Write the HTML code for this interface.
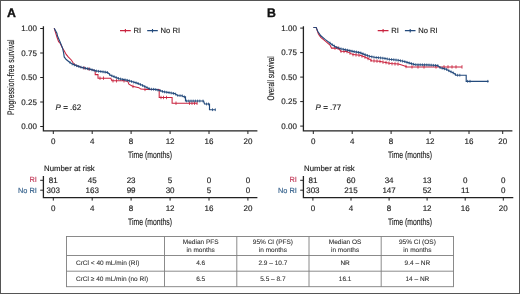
<!DOCTYPE html>
<html><head><meta charset="utf-8"><style>
html,body{margin:0;padding:0;background:#fff;}
body{width:520px;height:294px;overflow:hidden;position:relative;}
svg{position:absolute;left:0;top:0;font-family:"Liberation Sans", sans-serif;will-change:transform;text-rendering:geometricPrecision;}
.frame{position:absolute;left:0;top:0;width:518px;height:292px;border:1px solid #555;}
</style></head><body>
<svg width="520" height="294" viewBox="0 0 520 294">
<text x="7.0" y="17.25" font-size="12.3" font-weight="bold" fill="#111" stroke="#111" stroke-width="0.35">A</text><path d="M43.4,26.2V130.9H257.4" fill="none" stroke="#222" stroke-width="1.3"/><path d="M40.2,28.5H43.4" stroke="#222" stroke-width="1"/><text x="36.9" y="31.3" font-size="8" text-anchor="end" fill="#222" stroke="#222" stroke-width="0.15">1.00</text><path d="M40.2,53.0H43.4" stroke="#222" stroke-width="1"/><text x="36.9" y="55.8" font-size="8" text-anchor="end" fill="#222" stroke="#222" stroke-width="0.15">0.75</text><path d="M40.2,77.5H43.4" stroke="#222" stroke-width="1"/><text x="36.9" y="80.3" font-size="8" text-anchor="end" fill="#222" stroke="#222" stroke-width="0.15">0.50</text><path d="M40.2,102.0H43.4" stroke="#222" stroke-width="1"/><text x="36.9" y="104.8" font-size="8" text-anchor="end" fill="#222" stroke="#222" stroke-width="0.15">0.25</text><path d="M40.2,126.5H43.4" stroke="#222" stroke-width="1"/><text x="36.9" y="129.3" font-size="8" text-anchor="end" fill="#222" stroke="#222" stroke-width="0.15">0.00</text><path d="M53.3,131V134" stroke="#222" stroke-width="1"/><text x="53.3" y="144.4" font-size="8" text-anchor="middle" fill="#222" stroke="#222" stroke-width="0.15">0</text><path d="M92.2,131V134" stroke="#222" stroke-width="1"/><text x="92.2" y="144.4" font-size="8" text-anchor="middle" fill="#222" stroke="#222" stroke-width="0.15">4</text><path d="M131.1,131V134" stroke="#222" stroke-width="1"/><text x="131.1" y="144.4" font-size="8" text-anchor="middle" fill="#222" stroke="#222" stroke-width="0.15">8</text><path d="M170.1,131V134" stroke="#222" stroke-width="1"/><text x="170.1" y="144.4" font-size="8" text-anchor="middle" fill="#222" stroke="#222" stroke-width="0.15">12</text><path d="M209.0,131V134" stroke="#222" stroke-width="1"/><text x="209.0" y="144.4" font-size="8" text-anchor="middle" fill="#222" stroke="#222" stroke-width="0.15">16</text><path d="M247.9,131V134" stroke="#222" stroke-width="1"/><text x="247.9" y="144.4" font-size="8" text-anchor="middle" fill="#222" stroke="#222" stroke-width="0.15">20</text><text transform="translate(150.0,157.6) scale(0.72,1)" font-size="9.5" text-anchor="middle" fill="#222" stroke="#222" stroke-width="0.16">Time (months)</text><text transform="translate(14.3,77.3) rotate(-90) scale(0.719,1)" font-size="9.5" text-anchor="middle" fill="#222" stroke="#222" stroke-width="0.16">Progression-free survival</text><path d="M120.0,30.6H130.8M125.4,28.9V32.5" stroke="#c9233f" stroke-width="1.1"/><text x="133.6" y="33.2" font-size="7.6" fill="#222" stroke="#222" stroke-width="0.15">RI</text><path d="M147.2,30.6H157.8M152.5,28.9V32.5" stroke="#234a7c" stroke-width="1.1"/><text x="160.6" y="33.2" font-size="7.6" fill="#222" stroke="#222" stroke-width="0.15">No RI</text><text x="55.6" y="110" font-size="8" fill="#222" stroke="#222" stroke-width="0.15"><tspan font-style="italic">P</tspan> = .62</text><path d="M54.2,28.2 L56.9,37.0 L58.6,41.6 L60.1,43.2 L62.6,48.2 L64.2,50.8 L66.2,54.4 L68.2,56.9 L71.3,60.0 L73.3,63.0 L75.0,64.7 L76.4,65.6 L81.2,67.3 L86.0,68.4 L90.8,69.4 L95.2,70.6 L95.2,74.6 L98.0,74.6 L98.0,78.2 L110.8,78.2 L111.9,80.8 L121.5,80.8 L123.3,80.6 L127.9,81.6 L128.9,84.1 L132.5,86.3 L138.9,87.7 L140.8,89.1 L146.3,89.5 L159.2,89.6 L159.2,97.5 L172.1,97.5 L172.1,103.2 L197.4,103.2" fill="none" stroke="#c9233f" stroke-width="1.05" stroke-linejoin="miter"/><path d="M84.0,66.2V69.6" stroke="#c9233f" stroke-width="0.85"/><path d="M89.0,67.3V70.7" stroke="#c9233f" stroke-width="0.85"/><path d="M100.0,76.5V79.9" stroke="#c9233f" stroke-width="0.85"/><path d="M103.5,76.5V79.9" stroke="#c9233f" stroke-width="0.85"/><path d="M113.0,79.1V82.5" stroke="#c9233f" stroke-width="0.85"/><path d="M116.5,79.1V82.5" stroke="#c9233f" stroke-width="0.85"/><path d="M124.0,79.1V82.5" stroke="#c9233f" stroke-width="0.85"/><path d="M133.0,84.7V88.1" stroke="#c9233f" stroke-width="0.85"/><path d="M145.0,87.7V91.1" stroke="#c9233f" stroke-width="0.85"/><path d="M161.0,95.8V99.2" stroke="#c9233f" stroke-width="0.85"/><path d="M163.5,95.8V99.2" stroke="#c9233f" stroke-width="0.85"/><path d="M166.5,95.8V99.2" stroke="#c9233f" stroke-width="0.85"/><path d="M176.0,101.5V104.9" stroke="#c9233f" stroke-width="0.85"/><path d="M189.5,101.5V104.9" stroke="#c9233f" stroke-width="0.85"/><path d="M192.0,101.5V104.9" stroke="#c9233f" stroke-width="0.85"/><path d="M194.5,101.5V104.9" stroke="#c9233f" stroke-width="0.85"/><path d="M197.0,101.5V104.9" stroke="#c9233f" stroke-width="0.85"/><path d="M54.2,28.2 L56.9,33.3 L57.5,36.0 L60.1,42.1 L62.6,48.2 L63.7,53.3 L64.2,56.9 L66.2,59.5 L69.3,62.0 L72.3,64.1 L76.4,65.6 L81.2,67.3 L86.0,68.4 L90.8,69.4 L95.7,70.9 L100.5,71.5 L105.3,72.1 L107.8,72.6 L110.5,75.3 L114.2,76.7 L118.8,78.6 L123.3,79.5 L127.9,80.4 L132.5,81.8 L137.1,83.1 L141.7,85.0 L146.3,87.3 L150.0,89.1 L155.0,89.4 L160.0,90.5 L163.0,91.6 L170.0,92.8 L174.8,93.6 L177.6,95.5 L181.9,95.7 L184.3,96.9 L185.5,96.9 L185.5,101.0 L203.6,101.0 L204.5,104.0 L209.5,104.0 L209.5,109.7 L215.6,109.7" fill="none" stroke="#234a7c" stroke-width="1.15" stroke-linejoin="miter"/><path d="M70.0,61.1V63.9" stroke="#234a7c" stroke-width="0.8"/><path d="M72.2,62.6V65.4" stroke="#234a7c" stroke-width="0.8"/><path d="M74.4,63.5V66.3" stroke="#234a7c" stroke-width="0.8"/><path d="M76.6,64.3V67.1" stroke="#234a7c" stroke-width="0.8"/><path d="M78.8,65.0V67.9" stroke="#234a7c" stroke-width="0.8"/><path d="M81.0,65.8V68.6" stroke="#234a7c" stroke-width="0.8"/><path d="M83.2,66.4V69.2" stroke="#234a7c" stroke-width="0.8"/><path d="M85.4,66.9V69.7" stroke="#234a7c" stroke-width="0.8"/><path d="M87.6,67.3V70.1" stroke="#234a7c" stroke-width="0.8"/><path d="M89.8,67.8V70.6" stroke="#234a7c" stroke-width="0.8"/><path d="M92.0,68.4V71.2" stroke="#234a7c" stroke-width="0.8"/><path d="M94.2,69.0V71.8" stroke="#234a7c" stroke-width="0.8"/><path d="M96.4,69.6V72.4" stroke="#234a7c" stroke-width="0.8"/><path d="M98.6,69.9V72.7" stroke="#234a7c" stroke-width="0.8"/><path d="M100.8,70.1V72.9" stroke="#234a7c" stroke-width="0.8"/><path d="M103.0,70.4V73.2" stroke="#234a7c" stroke-width="0.8"/><path d="M105.2,70.7V73.5" stroke="#234a7c" stroke-width="0.8"/><path d="M107.4,71.1V73.9" stroke="#234a7c" stroke-width="0.8"/><path d="M109.6,73.0V75.8" stroke="#234a7c" stroke-width="0.8"/><path d="M111.8,74.4V77.2" stroke="#234a7c" stroke-width="0.8"/><path d="M114.0,75.2V78.0" stroke="#234a7c" stroke-width="0.8"/><path d="M116.2,76.1V78.9" stroke="#234a7c" stroke-width="0.8"/><path d="M118.4,77.0V79.8" stroke="#234a7c" stroke-width="0.8"/><path d="M120.6,77.6V80.4" stroke="#234a7c" stroke-width="0.8"/><path d="M122.8,78.0V80.8" stroke="#234a7c" stroke-width="0.8"/><path d="M125.0,78.4V81.2" stroke="#234a7c" stroke-width="0.8"/><path d="M127.2,78.9V81.7" stroke="#234a7c" stroke-width="0.8"/><path d="M129.4,79.5V82.3" stroke="#234a7c" stroke-width="0.8"/><path d="M131.6,80.1V82.9" stroke="#234a7c" stroke-width="0.8"/><path d="M133.8,80.8V83.6" stroke="#234a7c" stroke-width="0.8"/><path d="M136.0,81.4V84.2" stroke="#234a7c" stroke-width="0.8"/><path d="M138.2,82.2V85.0" stroke="#234a7c" stroke-width="0.8"/><path d="M140.4,83.1V85.9" stroke="#234a7c" stroke-width="0.8"/><path d="M142.6,84.0V86.9" stroke="#234a7c" stroke-width="0.8"/><path d="M144.8,85.1V87.9" stroke="#234a7c" stroke-width="0.8"/><path d="M147.0,86.2V89.0" stroke="#234a7c" stroke-width="0.8"/><path d="M149.2,87.3V90.1" stroke="#234a7c" stroke-width="0.8"/><path d="M151.4,87.8V90.6" stroke="#234a7c" stroke-width="0.8"/><path d="M153.6,87.9V90.7" stroke="#234a7c" stroke-width="0.8"/><path d="M155.8,88.2V91.0" stroke="#234a7c" stroke-width="0.8"/><path d="M158.0,88.7V91.5" stroke="#234a7c" stroke-width="0.8"/><path d="M160.2,89.2V92.0" stroke="#234a7c" stroke-width="0.8"/><path d="M162.4,90.0V92.8" stroke="#234a7c" stroke-width="0.8"/><path d="M164.6,90.5V93.3" stroke="#234a7c" stroke-width="0.8"/><path d="M166.8,90.9V93.7" stroke="#234a7c" stroke-width="0.8"/><path d="M169.0,91.2V94.0" stroke="#234a7c" stroke-width="0.8"/><path d="M171.2,91.6V94.4" stroke="#234a7c" stroke-width="0.8"/><path d="M173.4,92.0V94.8" stroke="#234a7c" stroke-width="0.8"/><path d="M175.6,92.7V95.5" stroke="#234a7c" stroke-width="0.8"/><path d="M177.8,94.1V96.9" stroke="#234a7c" stroke-width="0.8"/><path d="M180.0,94.2V97.0" stroke="#234a7c" stroke-width="0.8"/><path d="M182.2,94.4V97.2" stroke="#234a7c" stroke-width="0.8"/><path d="M184.4,95.5V98.3" stroke="#234a7c" stroke-width="0.8"/><path d="M186.6,99.6V102.4" stroke="#234a7c" stroke-width="0.8"/><path d="M188.8,99.6V102.4" stroke="#234a7c" stroke-width="0.8"/><path d="M191.0,99.6V102.4" stroke="#234a7c" stroke-width="0.8"/><path d="M193.2,99.6V102.4" stroke="#234a7c" stroke-width="0.8"/><path d="M195.4,99.6V102.4" stroke="#234a7c" stroke-width="0.8"/><path d="M197.6,99.6V102.4" stroke="#234a7c" stroke-width="0.8"/><path d="M199.8,99.6V102.4" stroke="#234a7c" stroke-width="0.8"/><path d="M203.0,99.6V102.4" stroke="#234a7c" stroke-width="0.8"/><path d="M206.5,102.6V105.4" stroke="#234a7c" stroke-width="0.8"/><path d="M208.5,102.6V105.4" stroke="#234a7c" stroke-width="0.8"/><path d="M212.5,108.3V111.1" stroke="#234a7c" stroke-width="0.8"/><path d="M215.3,108.3V111.1" stroke="#234a7c" stroke-width="0.8"/><text x="44.0" y="170.7" font-size="7.8" fill="#222" stroke="#222" stroke-width="0.15">Number at risk</text><path d="M43.4,175.9V197.7H257.4" fill="none" stroke="#222" stroke-width="1.3"/><path d="M40.2,180.3H43.4M40.2,190.2H43.4" stroke="#222" stroke-width="1"/><text x="36.8" y="182.0" font-size="7.4" text-anchor="end" fill="#c23e5c" stroke="#c23e5c" stroke-width="0.15">RI</text><text x="36.8" y="192.5" font-size="7.4" text-anchor="end" fill="#36628c" stroke="#36628c" stroke-width="0.15">No RI</text><text x="53.3" y="182.6" font-size="8" text-anchor="middle" fill="#222" stroke="#222" stroke-width="0.15">81</text><text x="53.3" y="192.9" font-size="8" text-anchor="middle" fill="#222" stroke="#222" stroke-width="0.15">303</text><path d="M53.3,197.8V200.6" stroke="#222" stroke-width="1"/><text x="53.3" y="211.4" font-size="8" text-anchor="middle" fill="#222" stroke="#222" stroke-width="0.15">0</text><text x="92.2" y="182.6" font-size="8" text-anchor="middle" fill="#222" stroke="#222" stroke-width="0.15">45</text><text x="92.2" y="192.9" font-size="8" text-anchor="middle" fill="#222" stroke="#222" stroke-width="0.15">163</text><path d="M92.2,197.8V200.6" stroke="#222" stroke-width="1"/><text x="92.2" y="211.4" font-size="8" text-anchor="middle" fill="#222" stroke="#222" stroke-width="0.15">4</text><text x="131.1" y="182.6" font-size="8" text-anchor="middle" fill="#222" stroke="#222" stroke-width="0.15">23</text><text x="131.1" y="192.9" font-size="8" text-anchor="middle" fill="#222" stroke="#222" stroke-width="0.15">99</text><path d="M131.1,197.8V200.6" stroke="#222" stroke-width="1"/><text x="131.1" y="211.4" font-size="8" text-anchor="middle" fill="#222" stroke="#222" stroke-width="0.15">8</text><text x="170.1" y="182.6" font-size="8" text-anchor="middle" fill="#222" stroke="#222" stroke-width="0.15">5</text><text x="170.1" y="192.9" font-size="8" text-anchor="middle" fill="#222" stroke="#222" stroke-width="0.15">30</text><path d="M170.1,197.8V200.6" stroke="#222" stroke-width="1"/><text x="170.1" y="211.4" font-size="8" text-anchor="middle" fill="#222" stroke="#222" stroke-width="0.15">12</text><text x="209.0" y="182.6" font-size="8" text-anchor="middle" fill="#222" stroke="#222" stroke-width="0.15">0</text><text x="209.0" y="192.9" font-size="8" text-anchor="middle" fill="#222" stroke="#222" stroke-width="0.15">5</text><path d="M209.0,197.8V200.6" stroke="#222" stroke-width="1"/><text x="209.0" y="211.4" font-size="8" text-anchor="middle" fill="#222" stroke="#222" stroke-width="0.15">16</text><text x="247.9" y="182.6" font-size="8" text-anchor="middle" fill="#222" stroke="#222" stroke-width="0.15">0</text><text x="247.9" y="192.9" font-size="8" text-anchor="middle" fill="#222" stroke="#222" stroke-width="0.15">0</text><path d="M247.9,197.8V200.6" stroke="#222" stroke-width="1"/><text x="247.9" y="211.4" font-size="8" text-anchor="middle" fill="#222" stroke="#222" stroke-width="0.15">20</text><text transform="translate(150.0,225.0) scale(0.72,1)" font-size="9.5" text-anchor="middle" fill="#222" stroke="#222" stroke-width="0.16">Time (months)</text><text x="267.0" y="16.5" font-size="12.3" font-weight="bold" fill="#111" stroke="#111" stroke-width="0.35">B</text><path d="M303.4,26.2V130.9H512.4" fill="none" stroke="#222" stroke-width="1.3"/><path d="M300.2,28.1H303.4" stroke="#222" stroke-width="1"/><text x="296.9" y="30.5" font-size="8" text-anchor="end" fill="#222" stroke="#222" stroke-width="0.15">1.00</text><path d="M300.2,52.6H303.4" stroke="#222" stroke-width="1"/><text x="296.9" y="55.0" font-size="8" text-anchor="end" fill="#222" stroke="#222" stroke-width="0.15">0.75</text><path d="M300.2,77.1H303.4" stroke="#222" stroke-width="1"/><text x="296.9" y="79.5" font-size="8" text-anchor="end" fill="#222" stroke="#222" stroke-width="0.15">0.50</text><path d="M300.2,101.6H303.4" stroke="#222" stroke-width="1"/><text x="296.9" y="104.0" font-size="8" text-anchor="end" fill="#222" stroke="#222" stroke-width="0.15">0.25</text><path d="M300.2,126.1H303.4" stroke="#222" stroke-width="1"/><text x="296.9" y="128.5" font-size="8" text-anchor="end" fill="#222" stroke="#222" stroke-width="0.15">0.00</text><path d="M313.3,131V134" stroke="#222" stroke-width="1"/><text x="313.3" y="144.4" font-size="8" text-anchor="middle" fill="#222" stroke="#222" stroke-width="0.15">0</text><path d="M352.2,131V134" stroke="#222" stroke-width="1"/><text x="352.2" y="144.4" font-size="8" text-anchor="middle" fill="#222" stroke="#222" stroke-width="0.15">4</text><path d="M391.1,131V134" stroke="#222" stroke-width="1"/><text x="391.1" y="144.4" font-size="8" text-anchor="middle" fill="#222" stroke="#222" stroke-width="0.15">8</text><path d="M430.1,131V134" stroke="#222" stroke-width="1"/><text x="430.1" y="144.4" font-size="8" text-anchor="middle" fill="#222" stroke="#222" stroke-width="0.15">12</text><path d="M469.0,131V134" stroke="#222" stroke-width="1"/><text x="469.0" y="144.4" font-size="8" text-anchor="middle" fill="#222" stroke="#222" stroke-width="0.15">16</text><path d="M502.7,131V134" stroke="#222" stroke-width="1"/><text x="502.7" y="144.4" font-size="8" text-anchor="middle" fill="#222" stroke="#222" stroke-width="0.15">20</text><text transform="translate(410.0,157.6) scale(0.72,1)" font-size="9.5" text-anchor="middle" fill="#222" stroke="#222" stroke-width="0.16">Time (months)</text><text transform="translate(274.3,78.4) rotate(-90) scale(0.684,1)" font-size="9.5" text-anchor="middle" fill="#222" stroke="#222" stroke-width="0.16">Overall survival</text><path d="M377.7,30.6H388.5M383.1,28.9V32.5" stroke="#c9233f" stroke-width="1.1"/><text x="391.3" y="33.2" font-size="7.6" fill="#222" stroke="#222" stroke-width="0.15">RI</text><path d="M404.9,30.6H415.5M410.2,28.9V32.5" stroke="#234a7c" stroke-width="1.1"/><text x="418.3" y="33.2" font-size="7.6" fill="#222" stroke="#222" stroke-width="0.15">No RI</text><text x="315.6" y="110" font-size="8" fill="#222" stroke="#222" stroke-width="0.15"><tspan font-style="italic">P</tspan> = .77</text><path d="M313.4,27.5 L316.2,27.5 L318.5,34.2 L320.8,37.3 L325.4,41.2 L330.0,45.0 L331.5,48.1 L338.5,48.1 L340.8,51.2 L346.9,51.5 L353.0,54.6 L360.0,55.3 L364.8,57.0 L369.6,59.2 L371.5,60.7 L379.2,61.2 L383.0,62.1 L386.9,62.7 L390.8,63.6 L398.5,64.1 L403.3,65.5 L407.1,66.9 L462.0,66.9" fill="none" stroke="#c9233f" stroke-width="1.05" stroke-linejoin="miter"/><path d="M335.0,46.4V49.8" stroke="#c9233f" stroke-width="0.85"/><path d="M338.0,46.4V49.8" stroke="#c9233f" stroke-width="0.85"/><path d="M341.0,49.5V52.9" stroke="#c9233f" stroke-width="0.85"/><path d="M344.0,49.7V53.1" stroke="#c9233f" stroke-width="0.85"/><path d="M347.0,49.9V53.3" stroke="#c9233f" stroke-width="0.85"/><path d="M350.0,51.4V54.8" stroke="#c9233f" stroke-width="0.85"/><path d="M353.0,52.9V56.3" stroke="#c9233f" stroke-width="0.85"/><path d="M356.0,53.2V56.6" stroke="#c9233f" stroke-width="0.85"/><path d="M359.0,53.5V56.9" stroke="#c9233f" stroke-width="0.85"/><path d="M362.0,54.3V57.7" stroke="#c9233f" stroke-width="0.85"/><path d="M365.0,55.4V58.8" stroke="#c9233f" stroke-width="0.85"/><path d="M368.0,56.8V60.2" stroke="#c9233f" stroke-width="0.85"/><path d="M371.0,58.6V62.0" stroke="#c9233f" stroke-width="0.85"/><path d="M374.0,59.2V62.6" stroke="#c9233f" stroke-width="0.85"/><path d="M377.0,59.4V62.8" stroke="#c9233f" stroke-width="0.85"/><path d="M380.0,59.7V63.1" stroke="#c9233f" stroke-width="0.85"/><path d="M383.0,60.4V63.8" stroke="#c9233f" stroke-width="0.85"/><path d="M386.0,60.9V64.3" stroke="#c9233f" stroke-width="0.85"/><path d="M389.0,61.5V64.9" stroke="#c9233f" stroke-width="0.85"/><path d="M392.0,62.0V65.4" stroke="#c9233f" stroke-width="0.85"/><path d="M395.0,62.2V65.6" stroke="#c9233f" stroke-width="0.85"/><path d="M398.0,62.4V65.8" stroke="#c9233f" stroke-width="0.85"/><path d="M406.0,64.8V68.2" stroke="#c9233f" stroke-width="0.85"/><path d="M412.0,65.2V68.6" stroke="#c9233f" stroke-width="0.85"/><path d="M418.0,65.2V68.6" stroke="#c9233f" stroke-width="0.85"/><path d="M424.0,65.2V68.6" stroke="#c9233f" stroke-width="0.85"/><path d="M436.0,65.2V68.6" stroke="#c9233f" stroke-width="0.85"/><path d="M444.0,65.2V68.6" stroke="#c9233f" stroke-width="0.85"/><path d="M448.0,65.2V68.6" stroke="#c9233f" stroke-width="0.85"/><path d="M452.0,65.2V68.6" stroke="#c9233f" stroke-width="0.85"/><path d="M456.0,65.2V68.6" stroke="#c9233f" stroke-width="0.85"/><path d="M462.0,65.2V68.6" stroke="#c9233f" stroke-width="0.85"/><path d="M313.4,27.5 L316.2,27.5 L317.7,31.2 L320.8,35.8 L325.4,39.6 L331.5,44.2 L336.2,47.3 L340.8,48.8 L348.5,50.4 L354.0,51.6 L360.0,52.6 L364.8,54.6 L369.6,56.3 L374.4,57.3 L379.2,57.8 L384.0,58.3 L388.8,59.2 L393.7,59.7 L398.5,60.3 L403.3,61.2 L408.0,62.6 L414.8,64.6 L426.9,64.9 L437.7,65.5 L440.4,67.8 L445.8,69.1 L449.8,71.2 L453.6,73.1 L456.3,75.2 L466.2,75.2 L466.2,81.3 L488.6,81.3" fill="none" stroke="#234a7c" stroke-width="1.15" stroke-linejoin="miter"/><path d="M330.0,41.7V44.5" stroke="#234a7c" stroke-width="0.8"/><path d="M332.2,43.3V46.1" stroke="#234a7c" stroke-width="0.8"/><path d="M334.4,44.7V47.5" stroke="#234a7c" stroke-width="0.8"/><path d="M336.6,46.0V48.8" stroke="#234a7c" stroke-width="0.8"/><path d="M338.8,46.7V49.5" stroke="#234a7c" stroke-width="0.8"/><path d="M341.0,47.4V50.2" stroke="#234a7c" stroke-width="0.8"/><path d="M343.2,47.9V50.7" stroke="#234a7c" stroke-width="0.8"/><path d="M345.4,48.4V51.2" stroke="#234a7c" stroke-width="0.8"/><path d="M347.6,48.8V51.6" stroke="#234a7c" stroke-width="0.8"/><path d="M349.8,49.3V52.1" stroke="#234a7c" stroke-width="0.8"/><path d="M352.0,49.8V52.6" stroke="#234a7c" stroke-width="0.8"/><path d="M354.2,50.2V53.0" stroke="#234a7c" stroke-width="0.8"/><path d="M356.4,50.6V53.4" stroke="#234a7c" stroke-width="0.8"/><path d="M358.6,51.0V53.8" stroke="#234a7c" stroke-width="0.8"/><path d="M360.8,51.5V54.3" stroke="#234a7c" stroke-width="0.8"/><path d="M363.0,52.4V55.2" stroke="#234a7c" stroke-width="0.8"/><path d="M365.2,53.3V56.1" stroke="#234a7c" stroke-width="0.8"/><path d="M367.4,54.1V56.9" stroke="#234a7c" stroke-width="0.8"/><path d="M369.6,54.9V57.7" stroke="#234a7c" stroke-width="0.8"/><path d="M371.8,55.4V58.2" stroke="#234a7c" stroke-width="0.8"/><path d="M374.0,55.8V58.6" stroke="#234a7c" stroke-width="0.8"/><path d="M376.2,56.1V58.9" stroke="#234a7c" stroke-width="0.8"/><path d="M378.4,56.3V59.1" stroke="#234a7c" stroke-width="0.8"/><path d="M380.6,56.5V59.3" stroke="#234a7c" stroke-width="0.8"/><path d="M382.8,56.8V59.6" stroke="#234a7c" stroke-width="0.8"/><path d="M385.0,57.1V59.9" stroke="#234a7c" stroke-width="0.8"/><path d="M387.2,57.5V60.3" stroke="#234a7c" stroke-width="0.8"/><path d="M389.4,57.9V60.7" stroke="#234a7c" stroke-width="0.8"/><path d="M391.6,58.1V60.9" stroke="#234a7c" stroke-width="0.8"/><path d="M393.8,58.3V61.1" stroke="#234a7c" stroke-width="0.8"/><path d="M396.0,58.6V61.4" stroke="#234a7c" stroke-width="0.8"/><path d="M398.2,58.9V61.7" stroke="#234a7c" stroke-width="0.8"/><path d="M400.4,59.3V62.1" stroke="#234a7c" stroke-width="0.8"/><path d="M402.6,59.7V62.5" stroke="#234a7c" stroke-width="0.8"/><path d="M404.8,60.2V63.0" stroke="#234a7c" stroke-width="0.8"/><path d="M407.0,60.9V63.7" stroke="#234a7c" stroke-width="0.8"/><path d="M409.2,61.6V64.4" stroke="#234a7c" stroke-width="0.8"/><path d="M411.4,62.2V65.0" stroke="#234a7c" stroke-width="0.8"/><path d="M413.6,62.8V65.6" stroke="#234a7c" stroke-width="0.8"/><path d="M415.8,63.2V66.0" stroke="#234a7c" stroke-width="0.8"/><path d="M418.0,63.3V66.1" stroke="#234a7c" stroke-width="0.8"/><path d="M420.2,63.3V66.1" stroke="#234a7c" stroke-width="0.8"/><path d="M422.4,63.4V66.2" stroke="#234a7c" stroke-width="0.8"/><path d="M424.6,63.4V66.2" stroke="#234a7c" stroke-width="0.8"/><path d="M426.8,63.5V66.3" stroke="#234a7c" stroke-width="0.8"/><path d="M429.0,63.6V66.4" stroke="#234a7c" stroke-width="0.8"/><path d="M431.2,63.7V66.5" stroke="#234a7c" stroke-width="0.8"/><path d="M433.4,63.9V66.7" stroke="#234a7c" stroke-width="0.8"/><path d="M435.6,64.0V66.8" stroke="#234a7c" stroke-width="0.8"/><path d="M437.8,64.2V67.0" stroke="#234a7c" stroke-width="0.8"/><path d="M440.0,66.1V68.9" stroke="#234a7c" stroke-width="0.8"/><path d="M442.2,66.8V69.6" stroke="#234a7c" stroke-width="0.8"/><path d="M444.4,67.4V70.2" stroke="#234a7c" stroke-width="0.8"/><path d="M446.6,68.1V70.9" stroke="#234a7c" stroke-width="0.8"/><path d="M448.8,69.3V72.1" stroke="#234a7c" stroke-width="0.8"/><path d="M451.0,70.4V73.2" stroke="#234a7c" stroke-width="0.8"/><path d="M453.2,71.5V74.3" stroke="#234a7c" stroke-width="0.8"/><path d="M455.4,73.1V75.9" stroke="#234a7c" stroke-width="0.8"/><path d="M457.6,73.8V76.6" stroke="#234a7c" stroke-width="0.8"/><path d="M459.8,73.8V76.6" stroke="#234a7c" stroke-width="0.8"/><path d="M467.6,79.9V82.7" stroke="#234a7c" stroke-width="0.8"/><path d="M470.0,79.9V82.7" stroke="#234a7c" stroke-width="0.8"/><path d="M487.8,79.9V82.7" stroke="#234a7c" stroke-width="0.8"/><text x="304.0" y="170.7" font-size="7.8" fill="#222" stroke="#222" stroke-width="0.15">Number at risk</text><path d="M303.4,175.9V197.7H513.3" fill="none" stroke="#222" stroke-width="1.3"/><path d="M300.2,180.3H303.4M300.2,190.2H303.4" stroke="#222" stroke-width="1"/><text x="296.8" y="182.0" font-size="7.4" text-anchor="end" fill="#c23e5c" stroke="#c23e5c" stroke-width="0.15">RI</text><text x="296.8" y="192.5" font-size="7.4" text-anchor="end" fill="#36628c" stroke="#36628c" stroke-width="0.15">No RI</text><text x="312.9" y="182.6" font-size="8" text-anchor="middle" fill="#222" stroke="#222" stroke-width="0.15">81</text><text x="312.9" y="192.9" font-size="8" text-anchor="middle" fill="#222" stroke="#222" stroke-width="0.15">303</text><path d="M312.9,197.8V200.6" stroke="#222" stroke-width="1"/><text x="312.9" y="211.4" font-size="8" text-anchor="middle" fill="#222" stroke="#222" stroke-width="0.15">0</text><text x="351.0" y="182.6" font-size="8" text-anchor="middle" fill="#222" stroke="#222" stroke-width="0.15">60</text><text x="351.0" y="192.9" font-size="8" text-anchor="middle" fill="#222" stroke="#222" stroke-width="0.15">215</text><path d="M351.0,197.8V200.6" stroke="#222" stroke-width="1"/><text x="351.0" y="211.4" font-size="8" text-anchor="middle" fill="#222" stroke="#222" stroke-width="0.15">4</text><text x="389.1" y="182.6" font-size="8" text-anchor="middle" fill="#222" stroke="#222" stroke-width="0.15">34</text><text x="389.1" y="192.9" font-size="8" text-anchor="middle" fill="#222" stroke="#222" stroke-width="0.15">147</text><path d="M389.1,197.8V200.6" stroke="#222" stroke-width="1"/><text x="389.1" y="211.4" font-size="8" text-anchor="middle" fill="#222" stroke="#222" stroke-width="0.15">8</text><text x="427.1" y="182.6" font-size="8" text-anchor="middle" fill="#222" stroke="#222" stroke-width="0.15">13</text><text x="427.1" y="192.9" font-size="8" text-anchor="middle" fill="#222" stroke="#222" stroke-width="0.15">52</text><path d="M427.1,197.8V200.6" stroke="#222" stroke-width="1"/><text x="427.1" y="211.4" font-size="8" text-anchor="middle" fill="#222" stroke="#222" stroke-width="0.15">12</text><text x="465.2" y="182.6" font-size="8" text-anchor="middle" fill="#222" stroke="#222" stroke-width="0.15">0</text><text x="465.2" y="192.9" font-size="8" text-anchor="middle" fill="#222" stroke="#222" stroke-width="0.15">11</text><path d="M465.2,197.8V200.6" stroke="#222" stroke-width="1"/><text x="465.2" y="211.4" font-size="8" text-anchor="middle" fill="#222" stroke="#222" stroke-width="0.15">16</text><text x="503.3" y="182.6" font-size="8" text-anchor="middle" fill="#222" stroke="#222" stroke-width="0.15">0</text><text x="503.3" y="192.9" font-size="8" text-anchor="middle" fill="#222" stroke="#222" stroke-width="0.15">0</text><path d="M503.3,197.8V200.6" stroke="#222" stroke-width="1"/><text x="503.3" y="211.4" font-size="8" text-anchor="middle" fill="#222" stroke="#222" stroke-width="0.15">20</text><text transform="translate(410.0,225.0) scale(0.72,1)" font-size="9.5" text-anchor="middle" fill="#222" stroke="#222" stroke-width="0.16">Time (months)</text><rect x="66.5" y="236.5" width="387.0" height="50.2" fill="none" stroke="#7e7e7e" stroke-width="0.9"/><path d="M164.5,236.5V286.7" stroke="#7e7e7e" stroke-width="0.9"/><path d="M236.8,236.5V286.7" stroke="#7e7e7e" stroke-width="0.9"/><path d="M309,236.5V286.7" stroke="#7e7e7e" stroke-width="0.9"/><path d="M381.2,236.5V286.7" stroke="#7e7e7e" stroke-width="0.9"/><path d="M66.5,255.5H453.5" stroke="#7e7e7e" stroke-width="0.9"/><path d="M66.5,271.2H453.5" stroke="#7e7e7e" stroke-width="0.9"/><text x="200.7" y="243.9" font-size="6.5" text-anchor="middle" fill="#333" stroke="#333" stroke-width="0.1">Median PFS</text><text x="200.7" y="252.2" font-size="6.5" text-anchor="middle" fill="#333" stroke="#333" stroke-width="0.1">in months</text><text x="272.9" y="243.9" font-size="6.5" text-anchor="middle" fill="#333" stroke="#333" stroke-width="0.1">95% CI (PFS)</text><text x="272.9" y="252.2" font-size="6.5" text-anchor="middle" fill="#333" stroke="#333" stroke-width="0.1">in months</text><text x="345.1" y="243.9" font-size="6.5" text-anchor="middle" fill="#333" stroke="#333" stroke-width="0.1">Median OS</text><text x="345.1" y="252.2" font-size="6.5" text-anchor="middle" fill="#333" stroke="#333" stroke-width="0.1">in months</text><text x="417.4" y="243.9" font-size="6.5" text-anchor="middle" fill="#333" stroke="#333" stroke-width="0.1">95% CI (OS)</text><text x="417.4" y="252.2" font-size="6.5" text-anchor="middle" fill="#333" stroke="#333" stroke-width="0.1">in months</text><text x="200.7" y="265.3" font-size="6.5" text-anchor="middle" fill="#333" stroke="#333" stroke-width="0.1">4.6</text><text x="200.7" y="281.2" font-size="6.5" text-anchor="middle" fill="#333" stroke="#333" stroke-width="0.1">6.5</text><text x="272.9" y="265.3" font-size="6.5" text-anchor="middle" fill="#333" stroke="#333" stroke-width="0.1">2.9 – 10.7</text><text x="272.9" y="281.2" font-size="6.5" text-anchor="middle" fill="#333" stroke="#333" stroke-width="0.1">5.5 – 8.7</text><text x="345.1" y="265.3" font-size="6.5" text-anchor="middle" fill="#333" stroke="#333" stroke-width="0.1">NR</text><text x="345.1" y="281.2" font-size="6.5" text-anchor="middle" fill="#333" stroke="#333" stroke-width="0.1">16.1</text><text x="417.4" y="265.3" font-size="6.5" text-anchor="middle" fill="#333" stroke="#333" stroke-width="0.1">9.4 – NR</text><text x="417.4" y="281.2" font-size="6.5" text-anchor="middle" fill="#333" stroke="#333" stroke-width="0.1">14 – NR</text><text x="76" y="265.4" font-size="6.5" fill="#333" stroke="#333" stroke-width="0.1">CrCl &lt; 40 mL/min (RI)</text><text x="76" y="281.2" font-size="6.5" fill="#333" stroke="#333" stroke-width="0.1">CrCl ≥ 40 mL/min (no RI)</text>
</svg>
<div class="frame"></div>
</body></html>
